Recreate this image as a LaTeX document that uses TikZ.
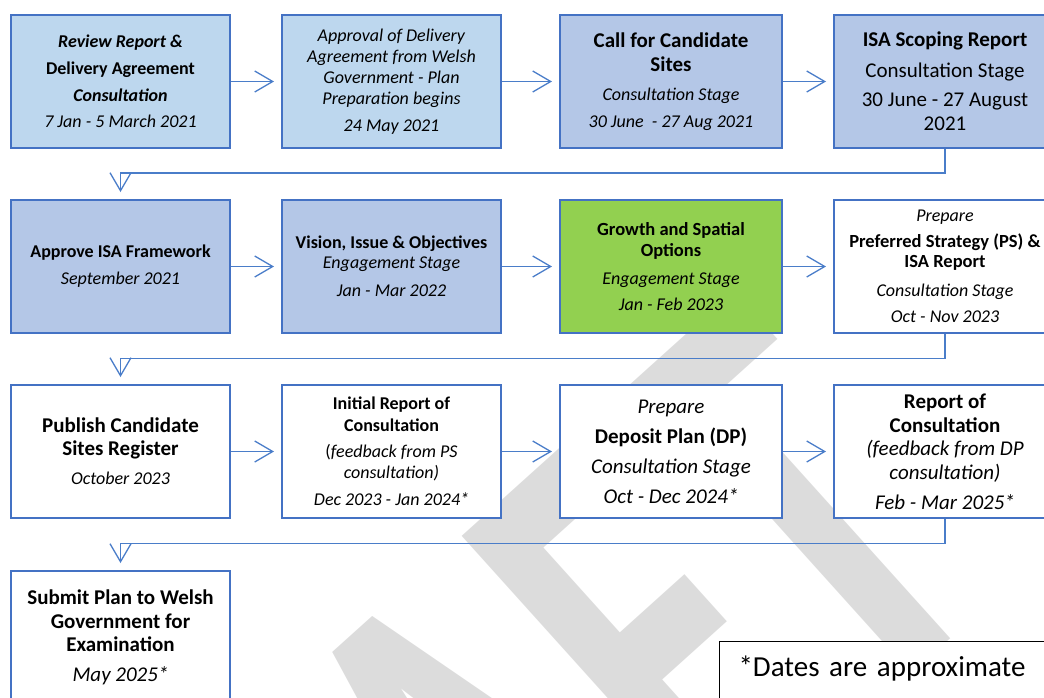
\documentclass[tikz,border=0pt]{standalone}
\usepackage{fontspec}
\setmainfont{Carlito}
\usepackage{xcolor}
\definecolor{sky-blue}{HTML}{BDD7EE}
\definecolor{soft-blue}{HTML}{B4C7E7}
\definecolor{leaf-green}{HTML}{92D050}
\definecolor{frame-blue}{HTML}{4472C4}
\definecolor{link-blue}{HTML}{4A7DC9}
\definecolor{mark-grey}{HTML}{DCDCDC}
\newcommand\bigBold[1]{{\fontsize{21}{24}\selectfont\bfseries #1}}
\newcommand\bigItal[1]{{\fontsize{21}{24}\selectfont\itshape #1}}
\newcommand\bigPlain[1]{{\fontsize{21}{24}\selectfont #1}}
\usepackage{tikz}
\usetikzlibrary{arrows.meta,positioning}
\tikzset{
    stagebox/.style={draw=frame-blue, line width=2.4pt, fill=white, minimum width=218.6pt,
        minimum height=132.6pt, align=center, inner sep=2pt, font=\fontsize{18}{21}\selectfont},
    widebox/.style={stagebox, minimum width=221.6pt},
    early/.style={fill=sky-blue},
    mid/.style={fill=soft-blue},
    focus/.style={fill=leaf-green},
    link/.style={draw=link-blue, line width=1.3pt, -{Straight Barb[length=18pt,width=21pt]}, shorten >=7pt},
    watermark/.style={text=mark-grey, rotate=42, anchor=base west, inner sep=0pt,
        font=\fontsize{457}{457}\selectfont\bfseries},
    notebox/.style={draw=black, line width=1pt, fill=white, anchor=base west, text width=300pt,
        align=left, inner xsep=19.5pt, inner ysep=15pt, text height=20pt, text depth=40pt,
        font=\fontsize{29}{34}\selectfont}
}

\begin{document}
\begin{tikzpicture}[x=1pt, y=-1pt]
      \useasboundingbox (0,0) rectangle (1044,697);
      \clip (0,0) rectangle (1044,697);
      \node[watermark] (draft) at (165,1346) {\scalebox{0.9}[1.36]{DRAFT}};

      % row 1
      \node[stagebox, early, font=\fontsize{18}{26.7}\selectfont] (review) at (120.5,81.5)
        {{\bfseries\itshape Review Report \&}\\ \textbf{Delivery Agreement}\\
         {\bfseries\itshape Consultation}\\ \textit{7 Jan - 5 March 2021}};
      \node[stagebox, early] (approval) at (391.5,81.5)
        {\textit{Approval of Delivery}\\ \textit{Agreement from Welsh}\\ \textit{Government - Plan}\\
         \textit{Preparation begins}\\[6pt] \textit{24 May 2021}};
      \node[widebox, mid, font=\fontsize{18}{24}\selectfont] (callsites) at (671,81.5)
        {\bigBold{Call for Candidate}\\ \bigBold{Sites}\\[5pt] \textit{Consultation Stage}\\[3pt]
         \textit{30 June~ - 27 Aug 2021}};
      \node[widebox, mid, font=\fontsize{21}{24}\selectfont] (scoping) at (945,81.5)
        {\bigBold{ISA Scoping Report}\\[7pt] \bigPlain{Consultation Stage}\\[5pt]
         \bigPlain{30 June - 27 August}\\ \bigPlain{2021}};

      % row 2
      \node[stagebox, mid, font=\fontsize{18}{27}\selectfont] (framework) at (120.5,266.5)
        {\textbf{Approve ISA Framework}\\ \textit{September 2021}};
      \node[stagebox, mid, font=\fontsize{18}{20}\selectfont] (vision) at (391.5,266.5)
        {\textbf{Vision, Issue \& Objectives}\\ \textit{Engagement Stage}\\[8pt] \textit{Jan - Mar 2022}};
      \node[widebox, focus] (growth) at (671,266.5)
        {{\fontsize{18.5}{21}\selectfont\bfseries Growth and Spatial}\\
         {\fontsize{18.5}{21}\selectfont\bfseries Options}\\[7pt]
         \textit{Engagement Stage}\\[5pt] \textit{Jan - Feb 2023}};
      \node[widebox, font=\fontsize{18}{20}\selectfont] (preferred) at (945,266.5)
        {\textit{Prepare}\\[6pt] {\fontsize{18.5}{20}\selectfont\bfseries Preferred Strategy (PS) \&}\\
         {\fontsize{18.5}{20}\selectfont\bfseries ISA Report}\\[9pt]
         \textit{Consultation Stage}\\[6pt] \textit{Oct - Nov 2023}};

      % row 3
      \node[stagebox, font=\fontsize{18}{23}\selectfont] (register) at (120.5,451.5)
        {\bigBold{Publish Candidate}\\ \bigBold{Sites Register}\\[6pt] \textit{October 2023}};
      \node[stagebox] (initial) at (391.5,451.5)
        {\textbf{Initial Report of}\\[1pt] \textbf{Consultation}\\[5pt]
         (\textit{feedback from PS}\\ \textit{consultation)}\\[6pt] \textit{Dec 2023 - Jan 2024*}};
      \node[widebox, font=\fontsize{21}{30}\selectfont] (deposit) at (671,451.5)
        {\bigItal{Prepare}\\ \bigBold{Deposit Plan (DP)}\\ \bigItal{Consultation Stage}\\
         \bigItal{Oct - Dec 2024*}};
      \node[widebox, font=\fontsize{21}{24}\selectfont] (roc) at (945,451.5)
        {\bigBold{Report of}\\ \bigBold{Consultation}\\[-1pt] \bigItal{(feedback from DP}\\
         \bigItal{consultation)}\\[6pt] \bigItal{Feb - Mar 2025*}};

      % row 4
      \node[stagebox, font=\fontsize{21}{23.5}\selectfont] (submit) at (120.5,637.5)
        {\bigBold{Submit Plan to Welsh}\\ \bigBold{Government for}\\ \bigBold{Examination}\\[6.5pt]
         \bigItal{May 2025*}};
      \node[notebox] (note) at (718.5,676) {*Dates are approximate};

      \draw[link] (review) -- (approval);
      \draw[link] (approval) -- (callsites);
      \draw[link] (callsites) -- (scoping);
      \draw[link] (scoping.south) -- ++(0,24) -| (framework.north);
      \draw[link] (framework) -- (vision);
      \draw[link] (vision) -- (growth);
      \draw[link] (growth) -- (preferred);
      \draw[link] (preferred.south) -- ++(0,24.5) -| (register.north);
      \draw[link] (register) -- (initial);
      \draw[link] (initial) -- (deposit);
      \draw[link] (deposit) -- (roc);
      \draw[link] (roc.south) -- ++(0,24.5) -| (submit.north);
\end{tikzpicture}
\end{document}
